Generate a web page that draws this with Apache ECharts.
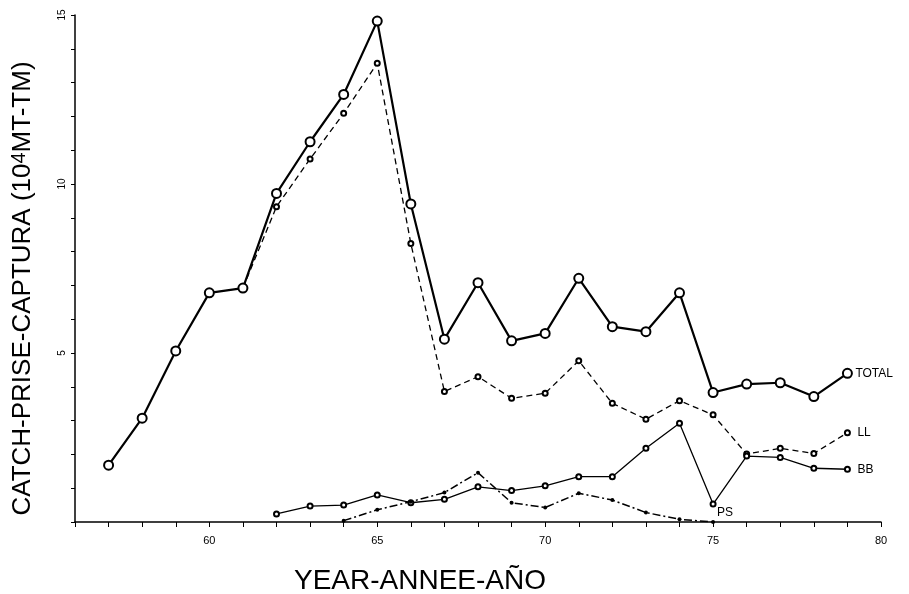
<!DOCTYPE html>
<html><head><meta charset="utf-8">
<script src="https://cdn.jsdelivr.net/npm/echarts@6/dist/echarts.min.js"></script>
<style>html,body{margin:0;padding:0;background:#fff}#c{width:909px;height:594px}</style>
</head><body><div id="c"></div>
<script>
const totalYears = [57,58,59,60,61,62,63,64,65,66,67,68,69,70,71,72,73,74,75,76,77,78,79];
const totalVals  = [1.68,3.07,5.06,6.78,6.92,9.72,11.25,12.65,14.82,9.41,5.41,7.08,5.36,5.58,7.21,5.78,5.63,6.78,3.83,4.08,4.12,3.71,4.40];
const llYears = [61,62,63,64,65,66,67,68,69,70,71,72,73,74,75,76,77,78,79];
const llVals  = [6.92,9.33,10.74,12.09,13.57,8.24,3.86,4.30,3.66,3.81,4.77,3.51,3.04,3.59,3.17,2.01,2.18,2.03,2.64];
const bbYears = [62,63,64,65,66,67,68,69,70,71,72,73,74,75,76,77,78,79];
const bbVals  = [0.24,0.47,0.50,0.80,0.57,0.67,1.04,0.93,1.07,1.34,1.34,2.18,2.92,0.53,1.95,1.91,1.59,1.56];
const psYears = [64,65,66,67,68,69,70,71,72,73,74,75];
const psVals  = [0.04,0.36,0.60,0.87,1.46,0.57,0.43,0.85,0.65,0.28,0.08,0.00];
const xTickLabels = [60,65,70,75,80];
const yTickLabels = [5,10,15];
const seriesNames = ['TOTAL','LL','BB','PS'];

const pairs = (xs, vs) => xs.map((x, i) => [x, vs[i]]);
const chart = echarts.init(document.getElementById('c'));
const font = "'Liberation Sans', Arial, sans-serif";
const endLbl = (extra) => Object.assign({show: true, formatter: '{a}', color: '#000', fontFamily: font, fontSize: 12, distance: 10}, extra || {});

chart.setOption({
  animation: false,
  backgroundColor: '#fff',
  grid: {left: 75, right: 28, top: 15, bottom: 72, containLabel: false, outerBoundsMode: 'none'},
  xAxis: {
    type: 'value', min: 56, max: 80, interval: 1,
    axisLine: {lineStyle: {color: '#000', width: 1.5}},
    axisTick: {show: true, inside: false, length: 5, lineStyle: {color: '#000', width: 1}},
    splitLine: {show: false},
    axisLabel: {
      color: '#000', fontFamily: font, fontSize: 11, margin: 13,
      formatter: v => xTickLabels.indexOf(v) >= 0 ? String(v) : ''
    },
    name: 'YEAR-ANNEE-AÑO', nameLocation: 'middle', nameGap: 45,
    nameTextStyle: {color: '#000', fontFamily: font, fontSize: 28, padding: [0, 116, 0, 0]}
  },
  yAxis: {
    type: 'value', min: 0, max: 15, interval: 1,
    axisLine: {show: true, lineStyle: {color: '#000', width: 1.5}},
    axisTick: {show: true, inside: false, length: 4, lineStyle: {color: '#000', width: 1}},
    splitLine: {show: false},
    axisLabel: {
      color: '#000', fontFamily: font, fontSize: 10, margin: 8, rotate: 90,
      formatter: v => yTickLabels.indexOf(v) >= 0 ? String(v) : ''
    },
    name: 'CATCH-PRISE-CAPTURA (10{sup|4}MT-TM)', nameLocation: 'middle', nameGap: 38,
    nameTextStyle: {
      color: '#000', fontFamily: font, fontSize: 26, padding: [0, 40, 0, 0],
      rich: {sup: {fontSize: 20, verticalAlign: 'top', padding: [0, 0, 8, 0], fontFamily: font, color: '#000'}}
    }
  },
  series: [
    {
      name: seriesNames[0], type: 'line', data: pairs(totalYears, totalVals), z: 5,
      symbol: 'emptyCircle', symbolSize: 9,
      lineStyle: {color: '#000', width: 2.2, type: 'solid'},
      itemStyle: {color: '#000', borderColor: '#000', borderWidth: 1.5},
      endLabel: endLbl({distance: 8})
    },
    {
      name: seriesNames[1], type: 'line', data: pairs(llYears, llVals), z: 4,
      symbol: 'emptyCircle', symbolSize: 5,
      lineStyle: {color: '#000', width: 1.3, type: [6, 4]},
      itemStyle: {color: '#000', borderColor: '#000', borderWidth: 1},
      endLabel: endLbl({formatter: 'LL', distance: 10})
    },
    {
      name: seriesNames[2], type: 'line', data: pairs(bbYears, bbVals), z: 4,
      symbol: 'emptyCircle', symbolSize: 5,
      lineStyle: {color: '#000', width: 1.3, type: 'solid'},
      itemStyle: {color: '#000', borderColor: '#000', borderWidth: 1},
      endLabel: endLbl({distance: 10})
    },
    {
      name: seriesNames[3], type: 'line', data: pairs(psYears, psVals), z: 4,
      symbol: 'circle', symbolSize: 4,
      lineStyle: {color: '#000', width: 1.5, type: [8, 3, 2, 3]},
      itemStyle: {color: '#000'},
      endLabel: endLbl({distance: 4, offset: [0, -9]})
    }
  ]
});
</script>
</body></html>
